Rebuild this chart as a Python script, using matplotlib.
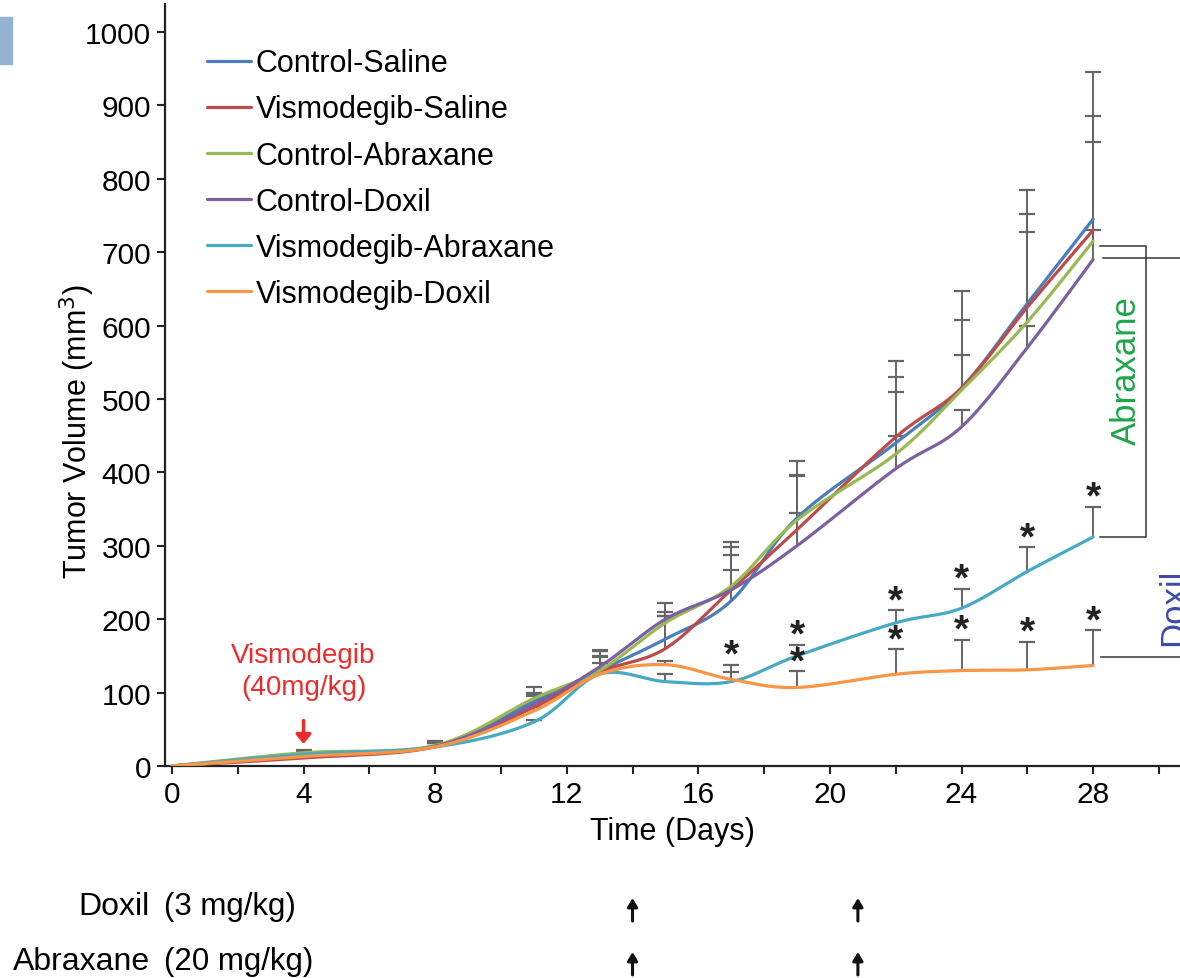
import numpy as np
import matplotlib
matplotlib.use("Agg")
import matplotlib.pyplot as plt
from matplotlib.patches import Rectangle
import matplotlib.transforms as mtransforms

plt.rcParams['font.family'] = ['Liberation Sans', 'DejaVu Sans']

# ---------------- data ----------------
days = [0, 4, 8, 11, 13, 15, 17, 19, 22, 24, 26, 28]
series_names = ["Control-Saline", "Vismodegib-Saline", "Control-Abraxane",
                "Control-Doxil", "Vismodegib-Abraxane", "Vismodegib-Doxil"]
control_saline = [0, 15, 27, 88, 130, 173, 225, 338, 440, 515, 630, 745]
vismo_saline = [0, 11, 26, 80, 128, 160, 240, 322, 448, 515, 625, 730]
control_abraxane = [0, 18, 28, 92, 130, 195, 245, 335, 425, 512, 605, 715]
control_doxil = [0, 14, 27, 84, 135, 200, 240, 300, 405, 462, 570, 690]
vismo_abraxane = [0, 16, 26, 60, 125, 115, 115, 150, 195, 215, 265, 312]
vismo_doxil = [0, 13, 26, 75, 125, 138, 118, 107, 125, 130, 131, 137]

# upper error (SD) per series
err_control_saline = [0, 4, 6, 12, 28, 49, 42, 59, 90, 132, 155, 200]
err_vismo_saline = [0, 4, 6, 15, 28, 45, 65, 93, 104, 92, 127, 155]
err_control_abraxane = [0, 4, 6, 15, 18, 15, 53, 60, 85, 48, 122, 135]
err_control_doxil = [0, 4, 6, 14, 5, 5, 48, 45, 45, 23, 30, 40]
err_vismo_abraxane = [0, 3, 5, 2, 32, 10, 23, 15, 17, 26, 33, 41]
err_vismo_doxil = [0, 3, 5, 5, 25, 5, 10, 22, 34, 42, 38, 48]

# significance stars (days)
star_days_abraxane = [17, 19, 22, 24, 26, 28]
star_days_doxil = [19, 22, 24, 26, 28]

dosing_days = [14, 20.85]
vismo_start_day = 4

colors = ["#4a7ebb", "#be4b48", "#98b954", "#7d60a0", "#46aac5", "#f79646"]

means = [control_saline, vismo_saline, control_abraxane, control_doxil,
         vismo_abraxane, vismo_doxil]
errs = [err_control_saline, err_vismo_saline, err_control_abraxane,
        err_control_doxil, err_vismo_abraxane, err_vismo_doxil]


def smooth(x, y, n=30):
    P = np.column_stack([np.asarray(x, float), np.asarray(y, float)])
    out = []
    m = len(P)
    t = np.linspace(0, 1, n)[:, None]
    for i in range(m - 1):
        p0 = P[i - 1] if i > 0 else P[i]
        p1 = P[i]
        p2 = P[i + 1]
        p3 = P[i + 2] if i + 2 < m else P[i + 1]
        c1 = p1 + (p2 - p0) / 6.0
        c2 = p2 - (p3 - p1) / 6.0
        seg = ((1 - t) ** 3) * p1 + 3 * ((1 - t) ** 2) * t * c1 + 3 * (1 - t) * t ** 2 * c2 + t ** 3 * p2
        out.append(seg if i == 0 else seg[1:])
    out = np.vstack(out)
    return out[:, 0], out[:, 1]


W, H = 1180, 979
fig = plt.figure(figsize=(W / 100, H / 100), dpi=100)
ax = fig.add_axes([165 / W, 1 - 767 / H, 1 - 165 / W, (767 - 5) / H])

ax.set_xlim(-0.21, 30.64)
ax.set_ylim(0, 1038)

# error bars (upper only)
ecolor = "#666666"
for m, e in zip(means, errs):
    d = np.array(days, float)
    mv = np.array(m, float)
    ev = np.array(e, float)
    top = mv + ev
    ax.vlines(d[1:], mv[1:], top[1:], color=ecolor, lw=1.4, zorder=2)
    ax.plot(d[1:], top[1:], ls='none', marker='_', ms=12, mew=1.6, color=ecolor, zorder=2)

# lines
for name, m, c in zip(series_names, means, colors):
    sx, sy = smooth(days, m)
    ax.plot(sx, sy, color=c, lw=2.3, label=name, zorder=3, solid_capstyle='round')

# stars
def star_at(day, idx):
    i = days.index(day)
    top = means[idx][i] + errs[idx][i]
    ax.text(day, top - 12, "*", ha='center', va='bottom', fontsize=28,
            fontweight='bold', color='#222222', zorder=4)

for dd in star_days_abraxane:
    star_at(dd, 4)
for dd in star_days_doxil:
    star_at(dd, 5)

# brackets
bk = "#333333"
ab_top = control_abraxane[-1] - 6
ab_bot = vismo_abraxane[-1]
ax.plot([28.2, 29.6, 29.6, 28.2], [ab_top, ab_top, ab_bot, ab_bot], color=bk, lw=1.1, zorder=2, clip_on=False)
dx_top = control_doxil[-1] + 2
dx_bot = vismo_doxil[-1] + 11
ax.plot([28.3, 30.64], [dx_top, dx_top], color=bk, lw=1.1, zorder=2)
ax.plot([28.25, 30.64], [dx_bot, dx_bot], color=bk, lw=1.1, zorder=2)
ax.text(29.02, (ab_top + ab_bot) / 2 + 30, "Abraxane", rotation=90, ha='center', va='center',
        fontsize=25, color="#1ea64a")
ax.text(30.45, 218, "Doxil", rotation=90, ha='center', va='center',
        fontsize=25, color="#3b4ba8", clip_on=True)

# vismodegib annotation
ax.text(vismo_start_day, 130, "Vismodegib\n(40mg/kg)", ha='center', va='center',
        fontsize=20, color="#ee2b2b", linespacing=1.3)
ax.annotate("", xy=(vismo_start_day, 30), xytext=(vismo_start_day, 62),
            arrowprops=dict(arrowstyle="-|>,head_length=0.55,head_width=0.45",
                            color="#ee2b2b", lw=2.5, shrinkA=0, shrinkB=0))

# axes styling
for s in ['top', 'right']:
    ax.spines[s].set_visible(False)
for s in ['left', 'bottom']:
    ax.spines[s].set_linewidth(1.6)
    ax.spines[s].set_color("#222222")
ax.set_xticks(np.arange(0, 31, 2))
ax.set_xticklabels([str(v) if v % 4 == 0 and v <= 28 else "" for v in range(0, 31, 2)])
ax.set_yticks(np.arange(0, 1001, 100))
ax.tick_params(axis='both', direction='out', length=6, width=1.5, labelsize=21.5, color="#222222")
ax.tick_params(axis='x', pad=4)
ax.tick_params(axis='y', pad=4)
ax.set_xlabel("Time (Days)", fontsize=22, labelpad=6)
ax.set_ylabel("Tumor Volume (mm$^3$)", fontsize=22)
ax.yaxis.set_label_coords(-0.067, 0.44)

leg = ax.legend(loc='upper left', bbox_to_anchor=(0.041, 0.942), frameon=False,
                fontsize=22, handlelength=1.45, handletextpad=0.15,
                labelspacing=0.53, borderaxespad=0, borderpad=0)

# panel marker
fig.patches.append(Rectangle((0, 1 - 65 / H), 12 / W, 47 / H, transform=fig.transFigure,
                             color="#94b3cf", zorder=0))

# dosing schedule below
fig.text(150 / W, 1 - 907 / H, "Doxil", ha='right', va='center', fontsize=23)
fig.text(164 / W, 1 - 907 / H, "(3 mg/kg)", ha='left', va='center', fontsize=22.5)
fig.text(150 / W, 1 - 962 / H, "Abraxane", ha='right', va='center', fontsize=23)
fig.text(164 / W, 1 - 962 / H, "(20 mg/kg)", ha='left', va='center', fontsize=22.5)
blend = mtransforms.blended_transform_factory(ax.transData, fig.transFigure)
for dd in dosing_days:
    for yc in [912, 966]:
        ax.annotate("", xy=(dd, 1 - (yc - 13) / H), xytext=(dd, 1 - (yc + 10) / H),
                    xycoords=blend, textcoords=blend, annotation_clip=False,
                    arrowprops=dict(arrowstyle="-|>,head_length=0.5,head_width=0.3",
                                    color="#111111", lw=2.2, shrinkA=0, shrinkB=0))

fig.savefig("out.png", dpi=100)
